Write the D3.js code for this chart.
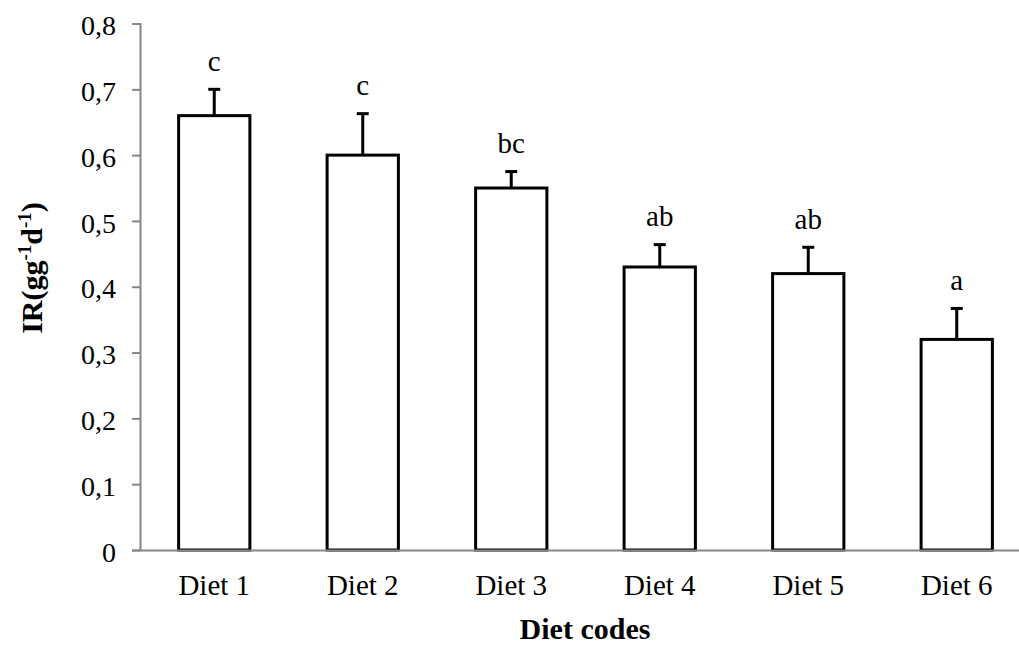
<!DOCTYPE html>
<html><head><meta charset="utf-8">
<script src="https://cdn.jsdelivr.net/npm/d3@7"></script>
<style>
html,body{margin:0;padding:0;background:#fff;}
svg{display:block;font-family:"Liberation Serif","Times New Roman",serif;}
</style></head>
<body>
<svg id="chart" width="1019" height="646"></svg>
<script>
const categories = ["Diet 1","Diet 2","Diet 3","Diet 4","Diet 5","Diet 6"];
const values = [0.66, 0.60, 0.55, 0.43, 0.42, 0.32];
const errors = [0.04, 0.063, 0.025, 0.034, 0.04, 0.047];
const letters = ["c","c","bc","ab","ab","a"];
const yTicks = [0,0.1,0.2,0.3,0.4,0.5,0.6,0.7,0.8];

const svg = d3.select("#chart");
const x = d3.scaleBand().domain(categories).range([140, 1031]).paddingInner(0.52).paddingOuter(0.26);
const y = d3.scaleLinear().domain([0, 0.8]).range([550, 23.5]);
const axisColor = "#868686";

// y axis
const yAxis = svg.append("g").attr("transform","translate(140,0)")
  .call(d3.axisLeft(y).tickValues(yTicks).tickSize(8).tickPadding(16)
    .tickFormat(d => d3.format(".1f")(d).replace(".", ",").replace(/^0,0$/,"0")));
yAxis.select(".domain").attr("stroke", axisColor).attr("stroke-width", 2);
yAxis.selectAll(".tick line").attr("stroke", axisColor).attr("stroke-width", 2);
yAxis.selectAll(".tick text").attr("fill","#000").attr("font-size", 28)
  .attr("font-family","Liberation Serif, Times New Roman, serif").attr("dy","0.4em");

// bars
svg.append("g").selectAll("rect").data(categories).join("rect")
  .attr("x", d => x(d)).attr("width", x.bandwidth())
  .attr("y", (d,i) => y(values[i])).attr("height", (d,i) => y(0) - y(values[i]))
  .attr("fill","#fff").attr("stroke","#000").attr("stroke-width",3);

// x axis
const xAxis = svg.append("g").attr("transform","translate(0,550)")
  .call(d3.axisBottom(x).tickSize(0).tickPadding(24));
xAxis.select(".domain").attr("stroke", axisColor).attr("stroke-width", 2);
xAxis.selectAll(".tick text").attr("fill","#000").attr("font-size", 29)
  .attr("font-family","Liberation Serif, Times New Roman, serif");

// error bars
const eb = svg.append("g").attr("stroke","#000").attr("stroke-width",3);
categories.forEach((c,i) => {
  const cx = x(c) + x.bandwidth()/2;
  eb.append("line").attr("x1",cx).attr("x2",cx).attr("y1",y(values[i])).attr("y2",y(values[i]+errors[i]));
  eb.append("line").attr("x1",cx-6).attr("x2",cx+6).attr("y1",y(values[i]+errors[i])).attr("y2",y(values[i]+errors[i]));
});

// letters
svg.append("g").selectAll("text").data(categories).join("text")
  .attr("x", d => x(d) + x.bandwidth()/2)
  .attr("y", (d,i) => y(values[i]+errors[i]) - 18.5)
  .attr("text-anchor","middle").attr("font-size",29).attr("fill","#000")
  .text((d,i) => letters[i]);

// axis titles
svg.append("text").attr("x", 585).attr("y", 639).attr("text-anchor","middle")
  .attr("font-size",30).attr("font-weight","bold").attr("fill","#000").text("Diet codes");

const yt = svg.append("text").attr("transform","translate(42,268) rotate(-90)")
  .attr("text-anchor","middle").attr("font-size",30).attr("font-weight","bold").attr("fill","#000");
yt.append("tspan").text("IR(gg");
yt.append("tspan").attr("font-size",19).attr("dy",-11).text("-1");
yt.append("tspan").attr("dy",11).text("d");
yt.append("tspan").attr("font-size",19).attr("dy",-11).text("-1");
yt.append("tspan").attr("dy",11).text(")");
</script>
</body></html>
